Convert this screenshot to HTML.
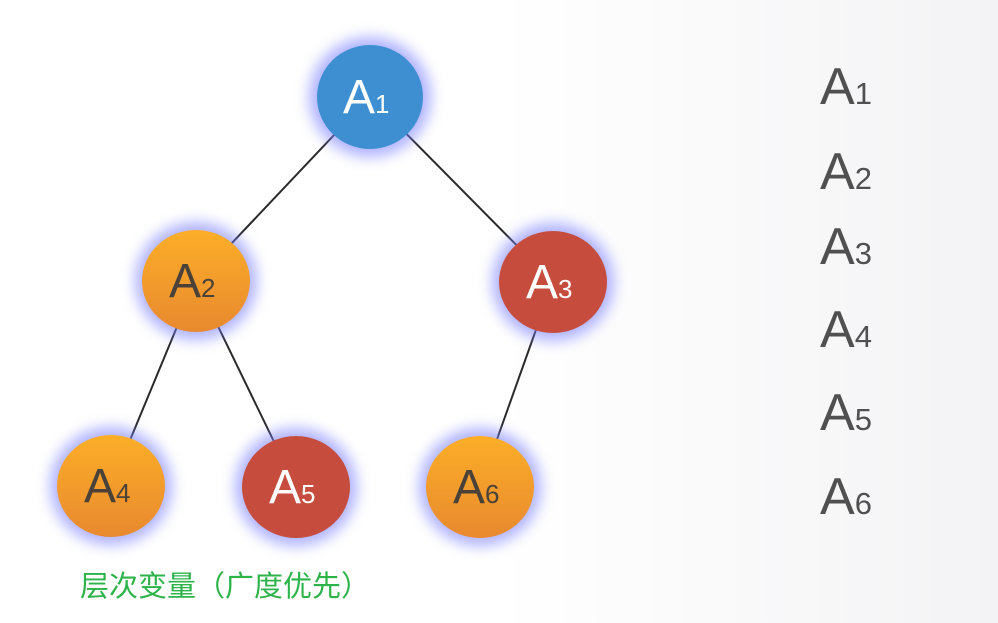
<!DOCTYPE html>
<html><head><meta charset="utf-8"><style>
html,body{margin:0;padding:0}
body{width:998px;height:618px;overflow:hidden;background:linear-gradient(90deg,#fff 0%,#fff 50%,#f3f3f5 100%);font-family:"Liberation Sans",sans-serif}
</style></head><body>
<svg width="998" height="618" viewBox="0 0 998 618" xmlns="http://www.w3.org/2000/svg">
<defs>
<filter id="glow" x="-40%" y="-40%" width="180%" height="180%">
<feGaussianBlur stdDeviation="7"/>
</filter>
<linearGradient id="og" x1="0" y1="0" x2="0" y2="1">
<stop offset="0" stop-color="#fcae28"/><stop offset="1" stop-color="#e8892f"/>
</linearGradient>
</defs>
<g stroke="#2a2a2a" stroke-width="2">
<line x1="370" y1="97" x2="196" y2="281"/>
<line x1="370" y1="97" x2="553" y2="282"/>
<line x1="196" y1="281" x2="111" y2="486"/>
<line x1="196" y1="281" x2="296" y2="487"/>
<line x1="553" y1="282" x2="480" y2="487"/>
</g>
<g fill="#7a80ff" opacity="0.6" filter="url(#glow)">
<ellipse cx="370" cy="97" rx="61" ry="60"/>
<ellipse cx="196" cy="281" rx="61" ry="59"/>
<ellipse cx="553" cy="282" rx="61" ry="59"/>
<ellipse cx="111" cy="486" rx="61" ry="59"/>
<ellipse cx="296" cy="487" rx="61" ry="59"/>
<ellipse cx="480" cy="487" rx="61" ry="59"/>
</g>
<ellipse cx="370" cy="97" rx="53" ry="52" fill="#3d8fd2"/>
<ellipse cx="196" cy="281" rx="54" ry="51" fill="url(#og)"/>
<ellipse cx="553" cy="282" rx="54" ry="51" fill="#c64d3e"/>
<ellipse cx="111" cy="486" rx="54" ry="51" fill="url(#og)"/>
<ellipse cx="296" cy="487" rx="54" ry="51" fill="#c64d3e"/>
<ellipse cx="480" cy="487" rx="54" ry="51" fill="url(#og)"/>
<g font-family="Liberation Sans, sans-serif" font-size="48">
<text x="343" y="113" fill="#fff">A<tspan font-size="26">1</tspan></text>
<text x="169" y="297" fill="#4a4238">A<tspan font-size="26">2</tspan></text>
<text x="526" y="298" fill="#fff">A<tspan font-size="26">3</tspan></text>
<text x="84" y="502" fill="#4a4238">A<tspan font-size="26">4</tspan></text>
<text x="269" y="503" fill="#fff">A<tspan font-size="26">5</tspan></text>
<text x="453" y="503" fill="#4a4238">A<tspan font-size="26">6</tspan></text>
</g>
<g font-family="Liberation Sans, sans-serif" font-size="52" fill="#505050">
<text x="820" y="104">A<tspan font-size="31">1</tspan></text>
<text x="820" y="189">A<tspan font-size="31">2</tspan></text>
<text x="820" y="264">A<tspan font-size="31">3</tspan></text>
<text x="820" y="347">A<tspan font-size="31">4</tspan></text>
<text x="820" y="430">A<tspan font-size="31">5</tspan></text>
<text x="820" y="514">A<tspan font-size="31">6</tspan></text>
</g>
<text x="80" y="596" font-family="Liberation Sans, Noto Sans CJK SC, sans-serif" font-size="29" fill="#2db34a">层次变量（广度优先）</text>
</svg>
</body></html>
